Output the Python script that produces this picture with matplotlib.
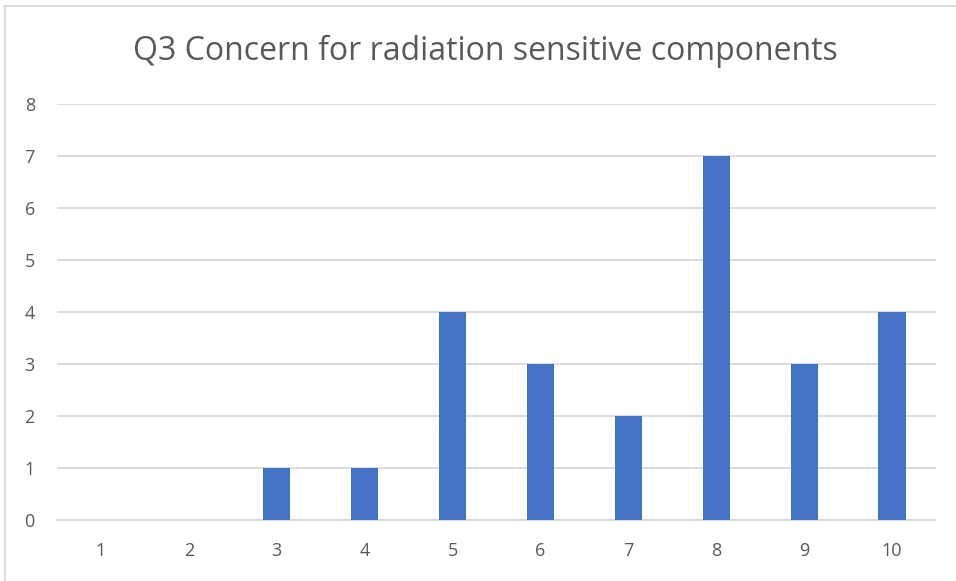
import matplotlib
matplotlib.use("Agg")
import matplotlib.pyplot as plt
from matplotlib.lines import Line2D

categories = ["1", "2", "3", "4", "5", "6", "7", "8", "9", "10"]
values = [0, 0, 1, 1, 4, 3, 2, 7, 3, 4]
yticks = [0, 1, 2, 3, 4, 5, 6, 7, 8]
title = "Q3 Concern for radiation sensitive components"

W, H = 956, 581
plt.rcParams['font.family'] = ['Open Sans', 'DejaVu Sans']
fig = plt.figure(figsize=(W/100, H/100), dpi=100)
ax = fig.add_axes([57/W, 1-520/H, 879/W, 416/H])
x = list(range(len(categories)))
ax.bar(x, values, width=0.31, color="#4472C4", zorder=3)
ax.set_xlim(-0.5, len(categories)-0.5)
ax.set_ylim(0, 8)
ax.set_yticks(yticks)
ax.set_xticks(x)
ax.set_xticklabels(categories)
ax.grid(axis='y', color="#D9D9D9", linewidth=1.3, zorder=0)
for s in ['top', 'right', 'left']:
    ax.spines[s].set_visible(False)
ax.spines['bottom'].set_color("#D9D9D9")
ax.spines['bottom'].set_linewidth(1.3)
ax.tick_params(axis='both', length=0, colors="#595959", labelsize=13)
ax.tick_params(axis='y', pad=16)
ax.tick_params(axis='x', pad=16)
fig.text(485/W, 1-51/H, title, ha='center', va='center', fontsize=23, color="#595959")
fig.lines.append(Line2D([4.5/W, 4.5/W], [0, 1-6/H], transform=fig.transFigure,
                        color="#D9D9D9", linewidth=1.3))
fig.lines.append(Line2D([4/W, 1], [1-6/H, 1-6/H], transform=fig.transFigure,
                        color="#D9D9D9", linewidth=1.3))
fig.savefig("out.png", dpi=100)
